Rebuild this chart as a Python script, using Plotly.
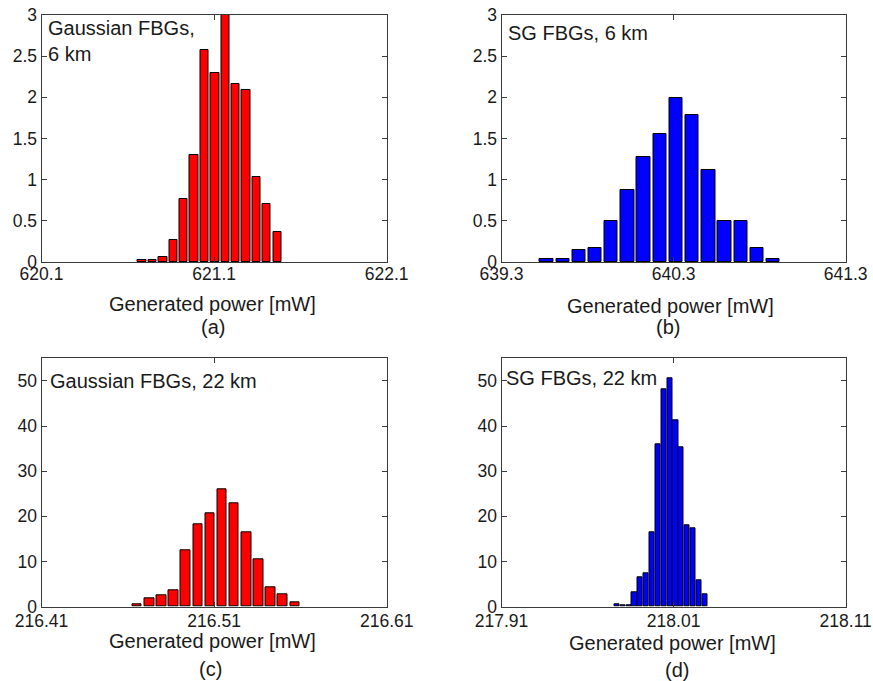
import plotly.graph_objects as go

W, H = 873, 681
FONT = "Liberation Sans, Arial, Helvetica, sans-serif"

# ---- data ----
a_centers = [620.683, 620.743, 620.803, 620.864, 620.924, 620.984, 621.044,
             621.104, 621.165, 621.225, 621.285, 621.345, 621.405, 621.466]
a_values = [0.03, 0.03, 0.065, 0.27, 0.76, 1.30, 2.57, 2.29, 3.0, 2.16, 2.09, 1.03, 0.70, 0.37]

b_centers = [639.562, 639.656, 639.750, 639.844, 639.938, 640.032, 640.126, 640.220,
             640.314, 640.408, 640.502, 640.596, 640.690, 640.784, 640.878]
b_values = [0.04, 0.04, 0.15, 0.17, 0.50, 0.88, 1.28, 1.56, 1.99, 1.78, 1.12, 0.50, 0.50, 0.17, 0.04]

c_centers = [216.4654, 216.4724, 216.4795, 216.4865, 216.4935, 216.5006, 216.5076,
             216.5146, 216.5216, 216.5287, 216.5357, 216.5427, 216.5498, 216.5568]
c_values = [0.5, 1.8, 2.5, 3.7, 12.4, 18.3, 20.6, 26.0, 22.9, 16.5, 10.5, 4.3, 2.8, 1.0]

d_centers = [217.9771, 217.9805, 217.9839, 217.9873, 217.9907, 217.9941, 217.9975, 218.0009,
             218.0043, 218.0077, 218.0111, 218.0145, 218.0179, 218.0213, 218.0247, 218.0281]
d_values = [0.44, 0.37, 0.37, 3.3, 6.5, 7.4, 16.4, 36.0, 48.2, 50.5, 41.3, 35.4, 18.1, 17.3, 5.75, 2.8]

a_ticks = [620.1, 621.1, 622.1]
b_ticks = [639.3, 640.3, 641.3]
c_ticks = [216.41, 216.51, 216.61]
d_ticks = [217.91, 218.01, 218.11]

panel_labels = ["Gaussian FBGs,<br>6 km", "SG FBGs, 6 km", "Gaussian FBGs, 22 km", "SG FBGs, 22 km"]
sub_labels = ["(a)", "(b)", "(c)", "(d)"]
xlabel = "Generated power [mW]"

RED = "#ff0000"
BLUE = "#0000ff"


def px(x):
    return x / W


def py(y):
    return 1 - y / H


fig = go.Figure()
panels = [
    (a_centers, a_values, 0.049, RED, "x", "y"),
    (b_centers, b_values, 0.0775, BLUE, "x2", "y2"),
    (c_centers, c_values, 0.0056, RED, "x3", "y3"),
    (d_centers, d_values, 0.0030, BLUE, "x4", "y4"),
]
for cx, vals, w, col, xa, ya in panels:
    fig.add_trace(go.Bar(x=cx, y=vals, width=w, marker_color=col,
                         marker_line_color="#000000", marker_line_width=1,
                         xaxis=xa, yaxis=ya, showlegend=False))

xdom_l = [px(41.5), px(386.7)]
xdom_r = [px(501.5), px(845.7)]
ydom_t = [py(262), py(15)]
ydom_b = [py(606.7), py(358.3)]

axcommon = dict(showline=True, linecolor="#3a3a3a", linewidth=1, mirror="ticks",
                ticks="inside", ticklen=5, tickcolor="#3a3a3a", showgrid=False,
                zeroline=False, automargin=False,
                tickfont=dict(family=FONT, size=17.5, color="#1a1a1a"))


def xax(dom, ticks, anchor, standoff):
    d = dict(axcommon)
    d.update(domain=dom, range=[ticks[0], ticks[-1]], tickmode="array",
             tickvals=ticks, ticktext=[f"{t:g}" for t in ticks], anchor=anchor,
             ticklabelstandoff=standoff)
    return d


def yax(dom, rng, dt, anchor):
    d = dict(axcommon)
    d.update(domain=dom, range=rng, dtick=dt, tick0=0, anchor=anchor)
    return d


fig.update_layout(
    template="none",
    width=W, height=H, autosize=False,
    margin=dict(l=0, r=0, t=0, b=0, pad=0),
    paper_bgcolor="white", plot_bgcolor="white",
    bargap=0,
    xaxis=xax(xdom_l, a_ticks, "y", -4),
    yaxis=yax(ydom_t, [0, 3], 0.5, "x"),
    xaxis2=xax(xdom_r, b_ticks, "y2", -4),
    yaxis2=yax(ydom_t, [0, 3], 0.5, "x2"),
    xaxis3=xax(xdom_l, c_ticks, "y3", -2),
    yaxis3=yax(ydom_b, [0, 55], 10, "x3"),
    xaxis4=xax(xdom_r, d_ticks, "y4", -2),
    yaxis4=yax(ydom_b, [0, 55], 10, "x4"),
)

ann = []
tfont = dict(family=FONT, size=20, color="#1a1a1a")
# in-plot labels (left, top of text box)
for txt, (x, y) in zip(panel_labels, [(46, 15), (506, 20), (48, 368), (504, 365)]):
    ann.append(dict(text=txt, x=px(x), y=py(y), xref="paper", yref="paper",
                    xanchor="left", yanchor="top", showarrow=False, align="left",
                    font=dict(family=FONT, size=20, color="#1a1a1a")))
# axis titles
for x, y in [(212, 304), (670, 306), (212, 641), (672, 643)]:
    ann.append(dict(text=xlabel, x=px(x), y=py(y), xref="paper", yref="paper",
                    xanchor="center", yanchor="middle", showarrow=False, font=tfont))
# sub labels
for txt, (x, y) in zip(sub_labels, [(213, 327), (668, 327), (210, 669), (677, 670)]):
    ann.append(dict(text=txt, x=px(x), y=py(y), xref="paper", yref="paper",
                    xanchor="center", yanchor="middle", showarrow=False, font=tfont))
fig.update_layout(annotations=ann)

fig.write_html("out.html")
